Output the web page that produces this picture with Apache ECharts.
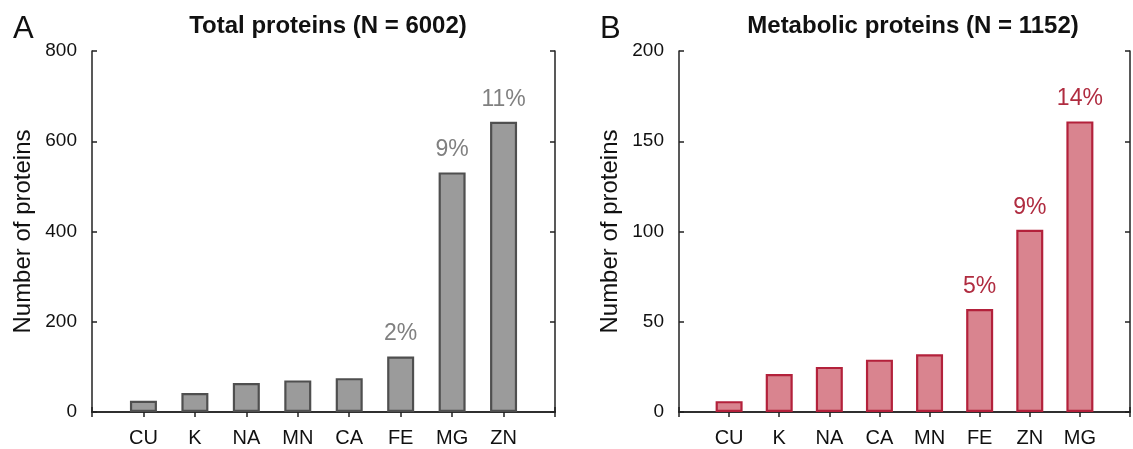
<!DOCTYPE html>
<html>
<head>
<meta charset="utf-8">
<script src="https://cdn.jsdelivr.net/npm/echarts@6/dist/echarts.min.js"></script>
<style>html,body{margin:0;padding:0;background:#fff;}#c{width:1133px;height:449px;}</style>
</head>
<body>
<div id="c"></div>
<script>
const catsA = ['CU', 'K', 'NA', 'MN', 'CA', 'FE', 'MG', 'ZN'];
const valsA = [25, 42, 64, 70, 75, 123, 531, 643];
const pctA = ['', '', '', '', '', '2%', '9%', '11%'];
const catsB = ['CU', 'K', 'NA', 'CA', 'MN', 'FE', 'ZN', 'MG'];
const valsB = [6, 21, 25, 29, 32, 57, 101, 161];
const pctB = ['', '', '', '', '', '5%', '9%', '14%'];
const yTicksA = { min: 0, max: 800, interval: 200 };
const yTicksB = { min: 0, max: 200, interval: 50 };
const titleA = 'Total proteins (N = 6002)';
const titleB = 'Metabolic proteins (N = 1152)';
const yName = 'Number of proteins';

const FONT = 'Liberation Sans, Arial, Helvetica, sans-serif';
const AX = '#222';

function padCats(c) { return [''].concat(c, ['']); }
function padVals(v) { return ['-'].concat(v, ['-']); }
function padPct(p) { return [''].concat(p, ['']); }

function xAxes(cats, gi) {
  const base = {
    type: 'category', gridIndex: gi, data: padCats(cats), boundaryGap: false,
    axisLine: { show: true, lineStyle: { color: AX, width: 1.5 } },
    axisTick: { show: true, inside: true, length: 5, lineStyle: { color: AX, width: 1.5 } },
    splitLine: { show: false }
  };
  return [
    Object.assign({}, base, { position: 'bottom',
      axisLabel: { color: '#111', fontSize: 20, fontFamily: FONT, margin: 16, interval: 0 } }),
    Object.assign({}, base, { position: 'top', axisLabel: { show: false } })
  ];
}
function yAxes(t, gi) {
  const base = {
    type: 'value', gridIndex: gi, min: t.min, max: t.max, interval: t.interval,
    axisLine: { show: true, lineStyle: { color: AX, width: 1.5 } },
    axisTick: { show: true, inside: true, length: 5, lineStyle: { color: AX, width: 1.5 } },
    splitLine: { show: false }
  };
  return [
    Object.assign({}, base, { position: 'left',
      name: yName, nameLocation: 'middle', nameGap: 57,
      nameTextStyle: { fontSize: 24, fontFamily: FONT, color: '#111' },
      axisLabel: { color: '#111', fontSize: 19, fontFamily: FONT, margin: 15 } }),
    Object.assign({}, base, { position: 'right', axisLabel: { show: false } })
  ];
}
function barSeries(vals, pct, gi, fill, edge, lblColor) {
  const v = padVals(vals), p = padPct(pct);
  return {
    type: 'bar', xAxisIndex: gi * 2, yAxisIndex: gi * 2, barWidth: 27,
    data: v.map((d, i) => ({ value: d, label: { show: !!p[i], formatter: p[i] } })),
    itemStyle: { color: fill, borderColor: edge, borderWidth: 2.2 },
    label: { position: 'top', distance: 11, color: lblColor, fontSize: 23, fontFamily: FONT },
    silent: true, animation: false
  };
}

const chart = echarts.init(document.getElementById('c'), null, { renderer: 'canvas' });
chart.setOption({
  animation: false,
  backgroundColor: '#fff',
  title: [
    { text: titleA, left: 323, top: 9, textAlign: 'center',
      textStyle: { fontSize: 24, fontWeight: 'bold', fontFamily: FONT, color: '#111' } },
    { text: titleB, left: 908, top: 9, textAlign: 'center',
      textStyle: { fontSize: 24, fontWeight: 'bold', fontFamily: FONT, color: '#111' } },
    { text: 'A', left: 8, top: 9, textStyle: { fontSize: 31, fontWeight: 'normal', fontFamily: FONT, color: '#111' } },
    { text: 'B', left: 595, top: 9, textStyle: { fontSize: 31, fontWeight: 'normal', fontFamily: FONT, color: '#111' } }
  ],
  grid: [
    { left: 92, top: 51, width: 463, height: 361, containLabel: false },
    { left: 679, top: 51, width: 459, height: 361, containLabel: false }
  ],
  xAxis: xAxes(catsA, 0).concat(xAxes(catsB, 1)),
  yAxis: yAxes(yTicksA, 0).concat(yAxes(yTicksB, 1)),
  series: [
    barSeries(valsA, pctA, 0, '#9b9b9b', '#4f4f4f', '#808080'),
    barSeries(valsB, pctB, 1, '#d9848f', '#b3213b', '#b02c40')
  ]
});
</script>
</body>
</html>
